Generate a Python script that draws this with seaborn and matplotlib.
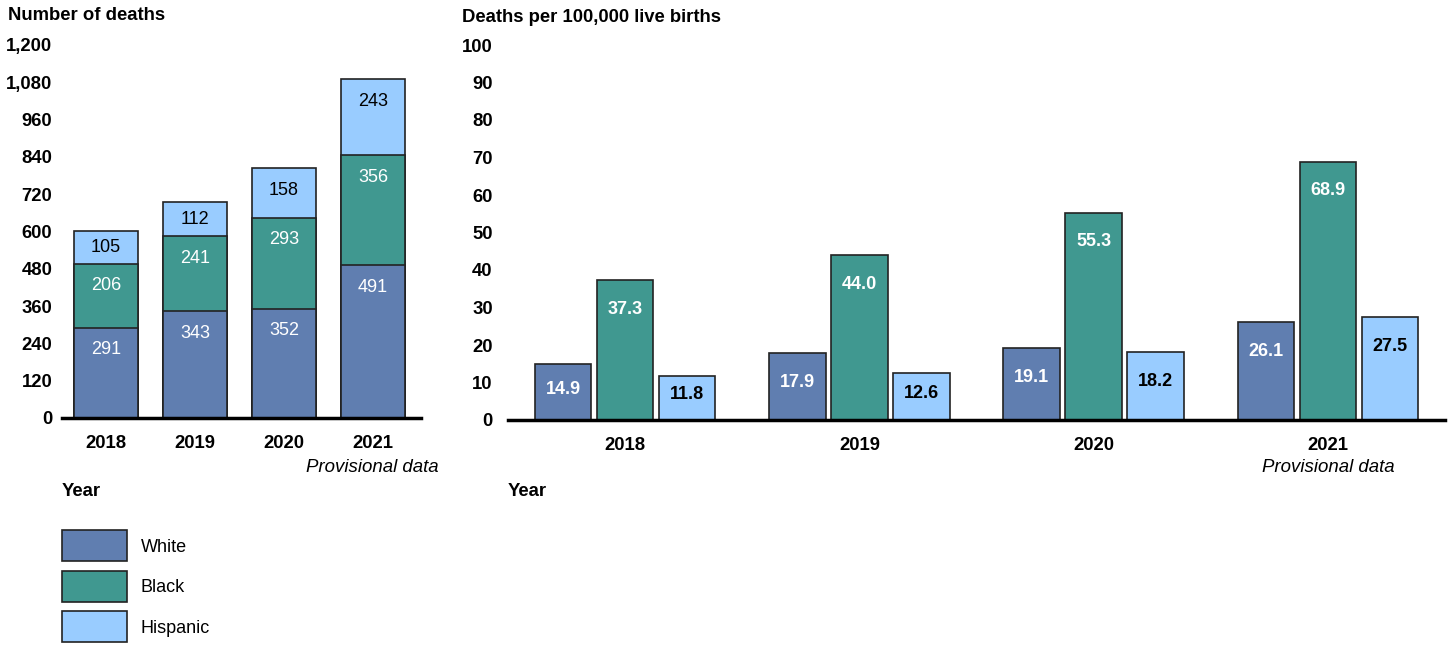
import matplotlib
matplotlib.use("Agg")
import matplotlib.pyplot as plt
import seaborn as sns
import pandas as pd
import numpy as np

years = ["2018", "2019", "2020", "2021"]
groups = ["White", "Black", "Hispanic"]
deaths_white = [291, 343, 352, 491]
deaths_black = [206, 241, 293, 356]
deaths_hispanic = [105, 112, 158, 243]
rate_white = [14.9, 17.9, 19.1, 26.1]
rate_black = [37.3, 44.0, 55.3, 68.9]
rate_hispanic = [11.8, 12.6, 18.2, 27.5]
left_yticks = [0, 120, 240, 360, 480, 600, 720, 840, 960, 1080, 1200]
right_yticks = [0, 10, 20, 30, 40, 50, 60, 70, 80, 90, 100]

colors = {"White": "#607EB0", "Black": "#409890", "Hispanic": "#99CCFF"}
text_colors = {"White": "white", "Black": "white", "Hispanic": "black"}
EDGE = "#222222"
FS = 13.3

sns.set_theme(style="white")
plt.rcParams["font.family"] = ["Liberation Sans", "DejaVu Sans"]
plt.rcParams["text.color"] = "black"
plt.rcParams["xtick.color"] = "black"
plt.rcParams["ytick.color"] = "black"

fig = plt.figure(figsize=(14.52, 6.46), dpi=100)
axL = fig.add_axes([62/1452, 1-418/646, (421-62)/1452, (418-45)/646])
axR = fig.add_axes([508/1452, 1-420/646, (1445-508)/1452, (420-45)/646])

# ---------- Left: stacked counts ----------
wb = np.array(deaths_white)
bb = np.array(deaths_black)
hb = np.array(deaths_hispanic)
tops = {"White": wb, "Black": wb + bb, "Hispanic": wb + bb + hb}
bottoms = {"White": np.zeros(4), "Black": wb, "Hispanic": wb + bb}
segs = {"White": wb, "Black": bb, "Hispanic": hb}
for g in ["Hispanic", "Black", "White"]:
    df = pd.DataFrame({"Year": years, "v": tops[g]})
    sns.barplot(data=df, x="Year", y="v", ax=axL, color=colors[g], saturation=1,
                width=0.72, edgecolor=EDGE, linewidth=1.2)
for g in groups:
    for i in range(4):
        top = tops[g][i]
        mid = bottoms[g][i] + segs[g][i] / 2
        y = max(mid, top - 72)
        axL.text(i, y, str(segs[g][i]), ha="center", va="center",
                 color=text_colors[g], fontsize=13)
axL.set_ylim(0, 1200)
axL.set_xlim(-0.494, 3.54)
axL.set_yticks(left_yticks)
axL.set_yticklabels([f"{v:,}" for v in left_yticks], fontweight="bold", fontsize=FS)
axL.set_xticklabels(years, fontweight="bold", fontsize=FS)
axL.tick_params(axis="y", length=0, pad=7)
axL.tick_params(axis="x", length=0, pad=12)
axL.set_xlabel("")
axL.set_ylabel("")
for s in ["top", "right", "left"]:
    axL.spines[s].set_visible(False)
axL.spines["bottom"].set_color("black")
axL.spines["bottom"].set_linewidth(2.5)
axL.spines["bottom"].set_zorder(5)

# ---------- Right: grouped rates ----------
rdf = pd.DataFrame({
    "Year": np.repeat(years, 3),
    "Group": groups * 4,
    "Rate": [v for trio in zip(rate_white, rate_black, rate_hispanic) for v in trio],
})
sns.barplot(data=rdf, x="Year", y="Rate", hue="Group", hue_order=groups,
            palette=colors, saturation=1, width=0.795, gap=0.09,
            edgecolor=EDGE, linewidth=1.2, ax=axR)
handles, labels = axR.get_legend_handles_labels()
if axR.get_legend() is not None:
    axR.get_legend().remove()
offsets = {"White": -0.265, "Black": 0.0, "Hispanic": 0.265}
rvals = {"White": rate_white, "Black": rate_black, "Hispanic": rate_hispanic}
for g in groups:
    for i in range(4):
        v = rvals[g][i]
        y = max(v / 2 + 0.8, v - 7.8)
        axR.text(i + offsets[g], y, f"{v:.1f}", ha="center", va="center",
                 color=text_colors[g], fontsize=13, fontweight="bold")
axR.set_ylim(0, 100)
axR.set_xlim(-0.5, 3.5)
axR.set_yticks(right_yticks)
axR.set_yticklabels([str(v) for v in right_yticks], fontweight="bold", fontsize=FS)
axR.set_xticklabels(years, fontweight="bold", fontsize=FS)
axR.tick_params(axis="y", length=0, pad=11)
axR.tick_params(axis="x", length=0, pad=12)
axR.set_xlabel("")
axR.set_ylabel("")
for s in ["top", "right", "left"]:
    axR.spines[s].set_visible(False)
axR.spines["bottom"].set_color("black")
axR.spines["bottom"].set_linewidth(2.5)
axR.spines["bottom"].set_zorder(5)

# ---------- Texts ----------
fig.text(8/1452, 1-16/646, "Number of deaths", fontsize=FS, fontweight="bold",
         ha="left", va="center")
fig.text(462/1452, 1-18/646, "Deaths per 100,000 live births", fontsize=FS,
         fontweight="bold", ha="left", va="center")
fig.text(62/1452, 1-491/646, "Year", fontsize=FS, fontweight="bold", ha="left", va="center")
fig.text(508/1452, 1-491/646, "Year", fontsize=FS, fontweight="bold", ha="left", va="center")
fig.text(439/1452, 1-467/646, "Provisional data", fontsize=13.4, style="italic",
         ha="right", va="center")
fig.text(1328/1452, 1-467/646, "Provisional data", fontsize=13.4, style="italic",
         ha="center", va="center")

leg = fig.legend(handles, labels, loc="upper left", bbox_to_anchor=(57/1452, 1-525/646),
                 frameon=False, fontsize=13, handlelength=3.56, handleheight=2.26,
                 labelspacing=0.53, handletextpad=0.78, borderaxespad=0, borderpad=0.3)

fig.savefig("out.png", dpi=100)
